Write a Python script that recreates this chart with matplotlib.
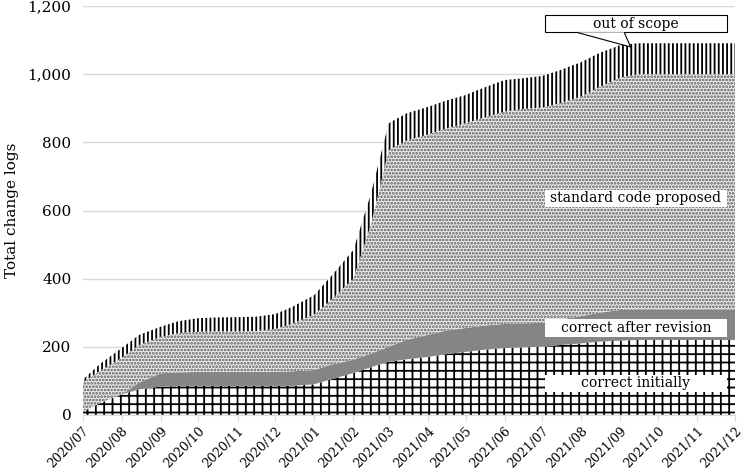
import matplotlib
matplotlib.use("Agg")
import matplotlib.pyplot as plt
import matplotlib.dates as mdates
from matplotlib.patches import Rectangle, Polygon
from matplotlib.ticker import FuncFormatter
import pandas as pd

# ------------------------------------------------------------
# data: half-month counts per category
# ------------------------------------------------------------
dates = pd.date_range("2020-07-01", periods=35, freq="SMS")

correct_initially = [10, 35, 60, 75, 83, 85, 85, 85, 85, 85, 85, 85, 90, 105, 123, 140,
                     156, 163, 170, 178, 185, 191, 196, 198, 200, 205, 210, 215, 218,
                     220, 220, 220, 220, 220, 220]
correct_after_revision = [0, 0, 0, 20, 39, 40, 41, 41, 41, 41, 42, 43, 42, 43, 39, 40,
                          44, 57, 65, 69, 70, 71, 71, 71, 70, 75, 80, 85, 90,
                          90, 90, 90, 90, 90, 90]
standard_code_proposed = [84, 95, 107, 110, 107, 115, 118, 119, 119, 120, 125, 140, 163,
                          192, 238, 380, 577, 585, 588, 593, 601, 610, 623, 629, 632,
                          635, 645, 662, 682, 690, 690, 690, 690, 690, 690]
out_of_scope = [9, 20, 29, 30, 30, 35, 40, 41, 42, 42, 44, 50, 57, 70, 84, 90, 79, 80,
                81, 82, 83, 88, 93, 90, 93, 97, 101, 100, 96, 91, 91, 91, 91, 91, 91]

series_labels = ["correct initially", "correct after revision",
                 "standard code proposed", "out of scope"]

plt.rcParams["font.family"] = "DejaVu Serif"
plt.rcParams["hatch.linewidth"] = 1.3

fig = plt.figure(figsize=(7.44, 4.72), dpi=100)
ax = fig.add_axes([0.111, 0.121, 0.877, 0.866])

polys = ax.stackplot(dates, correct_initially, correct_after_revision,
                     standard_code_proposed, out_of_scope, zorder=2)

styles = [
    dict(facecolor="white", edgecolor="black", hatch="++"),
    dict(facecolor="#858585", edgecolor="#6a6a6a", hatch=""),
    dict(facecolor="#ebebeb", edgecolor="#5a5a5a", hatch="....."),
    dict(facecolor="white", edgecolor="black", hatch="||||"),
]
for p, st in zip(polys, styles):
    p.set_facecolor(st["facecolor"])
    p.set_edgecolor(st["edgecolor"])
    p.set_hatch(st["hatch"])
    p.set_linewidth(0)

ax.set_ylim(0, 1200)
ax.set_yticks(range(0, 1201, 200))
ax.yaxis.set_major_formatter(FuncFormatter(lambda v, _: f"{int(v):,}"))
ax.set_xlim(dates[0], dates[-1])
ax.xaxis.set_major_locator(mdates.MonthLocator())
ax.xaxis.set_major_formatter(mdates.DateFormatter("%Y/%m"))
plt.setp(ax.get_xticklabels(), rotation=45, ha="right", rotation_mode="anchor")

ax.grid(axis="y", color="#d9d9d9", linewidth=1, zorder=0)
ax.set_axisbelow(True)
for s in ["top", "right", "left"]:
    ax.spines[s].set_visible(False)
ax.spines["bottom"].set_color("#d9d9d9")
ax.tick_params(axis="y", length=0, labelsize=11, pad=8)
ax.tick_params(axis="x", length=4, color="#d9d9d9", labelsize=9, pad=3)
ax.set_ylabel("Total change logs", fontsize=11, labelpad=6)

# series labels in white boxes on the right
boxes = [
    (0.056, 0.098, False),
    (0.191, 0.235, False),
    (0.509, 0.550, False),
    (0.936, 0.978, True),
]
for (y0, y1, framed), text in zip(boxes, series_labels):
    ax.add_patch(Rectangle((0.708, y0), 0.28, y1 - y0, transform=ax.transAxes,
                           facecolor="white", edgecolor="black" if framed else "none",
                           linewidth=0.8, zorder=5))
    ax.text(0.848, (y0 + y1) / 2, text, transform=ax.transAxes, ha="center",
            va="center", fontsize=10, zorder=6)

# callout pointer for "out of scope"
ax.add_patch(Polygon([(0.757, 0.936), (0.840, 0.900), (0.830, 0.936)],
                     closed=False, transform=ax.transAxes, facecolor="white",
                     edgecolor="black", linewidth=0.8, zorder=5))

plt.savefig("out.png", dpi=100, facecolor="white")
